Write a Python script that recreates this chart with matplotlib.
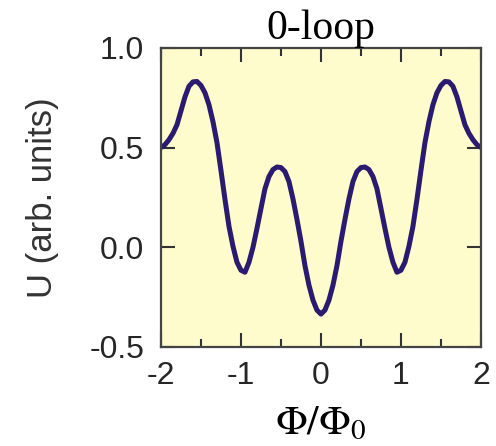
import numpy as np
import matplotlib
matplotlib.use("Agg")
import matplotlib.pyplot as plt
from matplotlib.ticker import MultipleLocator

# flux values (Phi/Phi0) and potential
phi = [-2.00, -1.95, -1.90, -1.85, -1.80, -1.75, -1.70, -1.65, -1.60, -1.55,
       -1.50, -1.45, -1.40, -1.35, -1.30, -1.25, -1.20, -1.15, -1.10, -1.05,
       -1.00, -0.95, -0.90, -0.85, -0.80, -0.75, -0.70, -0.65, -0.60, -0.55,
       -0.50, -0.45, -0.40, -0.35, -0.30, -0.25, -0.20, -0.15, -0.10, -0.05,
       0.00, 0.05, 0.10, 0.15, 0.20, 0.25, 0.30, 0.35, 0.40, 0.45,
       0.50, 0.55, 0.60, 0.65, 0.70, 0.75, 0.80, 0.85, 0.90, 0.95,
       1.00, 1.05, 1.10, 1.15, 1.20, 1.25, 1.30, 1.35, 1.40, 1.45,
       1.50, 1.55, 1.60, 1.65, 1.70, 1.75, 1.80, 1.85, 1.90, 1.95, 2.00]
U = [0.500, 0.515, 0.540, 0.572, 0.615, 0.685, 0.755, 0.808, 0.830, 0.832,
     0.812, 0.775, 0.715, 0.630, 0.525, 0.385, 0.240, 0.105, 0.005, -0.075,
     -0.115, -0.125, -0.075, 0.000, 0.095, 0.195, 0.294, 0.355, 0.390, 0.403,
     0.400, 0.380, 0.330, 0.243, 0.140, 0.030, -0.092, -0.190, -0.265, -0.315,
     -0.335, -0.315, -0.265, -0.190, -0.092, 0.030, 0.140, 0.243, 0.330, 0.380,
     0.400, 0.403, 0.390, 0.355, 0.294, 0.195, 0.095, 0.000, -0.075, -0.125,
     -0.115, -0.075, 0.005, 0.105, 0.240, 0.385, 0.525, 0.630, 0.715, 0.775,
     0.812, 0.832, 0.830, 0.808, 0.755, 0.685, 0.615, 0.572, 0.540, 0.515, 0.500]

xticks = [-2, -1, 0, 1, 2]
yticks = [-0.5, 0.0, 0.5, 1.0]

plt.rcParams['font.family'] = ['Liberation Sans', 'DejaVu Sans']
plt.rcParams['mathtext.fontset'] = 'stix'

fig = plt.figure(figsize=(4.96, 4.46), dpi=100)
ax = fig.add_axes([0.3246, 0.222, 0.645, 0.6704])
ax.set_facecolor('#fefbcc')

ax.plot(phi, U, color='#2a1a70', lw=3.6, solid_joinstyle='round', solid_capstyle='butt')

ax.set_xlim(-2, 2)
ax.set_ylim(-0.5, 1.0)
ax.set_xticks(xticks)
ax.set_xticklabels([str(t) for t in xticks])
ax.set_yticks(yticks)
ax.set_yticklabels(['%.1f' % t for t in yticks])
ax.xaxis.set_minor_locator(MultipleLocator(0.5))

ax.tick_params(which='both', direction='in', top=True, right=True,
               width=1.5, color='#333333', labelcolor='#262626', labelsize=23)
ax.tick_params(axis='x', which='major', length=10, pad=10)
ax.tick_params(axis='x', which='minor', length=5.5)
ax.tick_params(axis='y', which='major', length=10, pad=12)
for s in ax.spines.values():
    s.set_color('#444444')
    s.set_linewidth(1.6)

ax.set_title('0-loop', family='Liberation Serif', fontsize=30, pad=4)
ax.set_xlabel(r'$\Phi/\Phi_0$', fontsize=30, labelpad=9)
ax.set_ylabel('U (arb. units)', fontsize=25, color='#333333', labelpad=22)

fig.savefig('out.png', dpi=100)
